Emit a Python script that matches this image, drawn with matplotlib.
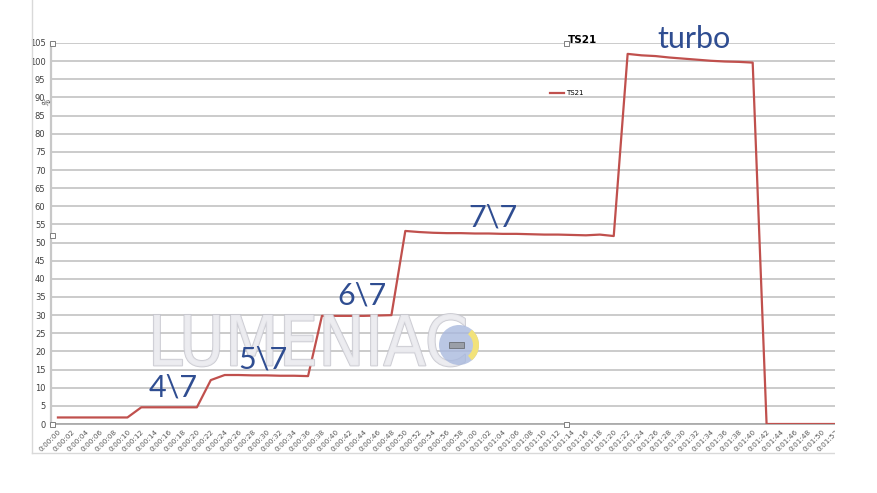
import matplotlib
matplotlib.use("Agg")
import matplotlib.pyplot as plt
import matplotlib.patheffects as pe
from matplotlib.lines import Line2D
from matplotlib.patches import Rectangle, Circle, Wedge

W, H = 877, 493

# seconds since start, one sample every 2 s
seconds = list(range(0, 114, 2))
tick_labels = ["0:%02d:%02d" % (s // 60, s % 60) for s in seconds]

# TS21 load, %
ts21 = [1.8, 1.8, 1.8, 1.8, 1.8, 1.8,
        4.6, 4.6, 4.6, 4.6, 4.6,
        12.1,
        13.5, 13.5, 13.4, 13.4, 13.3, 13.3, 13.2,
        29.8, 29.8, 29.8, 29.8, 29.9, 30.0,
        53.2, 52.9, 52.7, 52.6, 52.6, 52.5, 52.5, 52.4, 52.4, 52.3, 52.2, 52.2, 52.1, 52.0, 52.2, 51.8,
        102.0, 101.6, 101.4, 101.0, 100.7, 100.4, 100.1, 99.9, 99.8, 99.6,
        0, 0, 0, 0, 0, 0]

step_labels = ["4\\7", "5\\7", "6\\7", "7\\7", "turbo"]
step_pos = [(173, 397), (263, 368), (362, 305), (493, 227), (694, 48)]


def px(x, y):
    return x / W, 1 - y / H


fig = plt.figure(figsize=(W / 100, H / 100), dpi=100)
fig.patch.set_facecolor("white")

# plot area: x=51..843 px, y=43..424 px
ax = fig.add_axes([51 / W, 1 - 424 / H, 792 / W, 381 / H])
x = list(range(len(seconds)))
ax.plot(x, ts21, color="#c0504d", lw=1.6, label="TS21", zorder=3)
ax.set_xlim(-0.5, len(seconds) - 0.5)
ax.set_ylim(0, 105)
ax.set_yticks(range(0, 106, 5))
ax.set_xticks(x)
ax.set_xticklabels(tick_labels, rotation=45, ha="right", va="top",
                   rotation_mode="anchor", fontsize=5.2, color="#595959")
ax.tick_params(axis="y", labelsize=6, colors="#404040", length=0, pad=4)
ax.tick_params(axis="x", length=0, pad=3)
ax.grid(axis="y", color="#bdbdbd", lw=1.1)
ax.set_axisbelow(True)
for s in ["top", "right"]:
    ax.spines[s].set_visible(False)
ax.spines["left"].set_color("#c8c8c8")
ax.spines["left"].set_linewidth(1.6)
ax.spines["bottom"].set_color("#a6a6a6")
ax.spines["bottom"].set_linewidth(1.2)

ax.legend(loc="center left", bbox_to_anchor=px(550, 93), bbox_transform=fig.transFigure,
          frameon=False, fontsize=5, handlelength=2.0, handletextpad=0.3,
          borderpad=0, borderaxespad=0)

fig.text(*px(568, 40), "TS21", fontsize=7.5, fontweight="bold", va="center", ha="left")
fig.text(*px(47, 103), "%", fontsize=5.5, rotation=60, va="center", ha="center", color="#404040")

# watermark
fig.text(*px(308, 346), "LUMENIAC", fontsize=50, va="center", ha="center",
         family=["DejaVu Sans"], fontstretch="condensed", color="#ececf0", alpha=0.85,
         path_effects=[pe.withStroke(linewidth=1.3, foreground="#c4c4cc")], zorder=0.5)
fig.patches.append(Circle((459, H - 345), 20, transform=None, facecolor="#a9b9de",
                          edgecolor="none", alpha=0.8, zorder=0.6))
fig.patches.append(Wedge((459, H - 345), 20, -50, 50, width=6, transform=None,
                         facecolor="#f2e27a", edgecolor="none", zorder=0.7))
fig.patches.append(Rectangle((449, H - 348), 15, 6, transform=None, facecolor="#9a9fa8",
                             edgecolor="#6a6f76", lw=0.6, zorder=0.8))

for lab, (tx, ty) in zip(step_labels, step_pos):
    fig.text(*px(tx, ty), lab, fontsize=22, color="#2f4d91", ha="center", va="baseline",
             family=["Lato", "DejaVu Sans"], zorder=5)

# chart frame and selection handles
fig.add_artist(Line2D([32 / W, 32 / W], [1, 1 - 453 / H], color="#d9d9d9", lw=1))
fig.add_artist(Line2D([32 / W, 835 / W], [1 - 453 / H, 1 - 453 / H], color="#d9d9d9", lw=1))
for hx, hy in [(52, 43), (52, 235), (52, 424), (566, 424), (566, 43)]:
    fig.patches.append(Rectangle((hx - 2.5, H - hy - 2.5), 5, 5, transform=None,
                                 facecolor="white", edgecolor="#7f7f7f", lw=0.7, zorder=6))

# picture is cropped on the right
fig.patches.append(Rectangle((835 / W, 0), 1 - 835 / W, 1, transform=fig.transFigure,
                             facecolor="white", edgecolor="none", zorder=10))

fig.savefig("out.png", dpi=100)
